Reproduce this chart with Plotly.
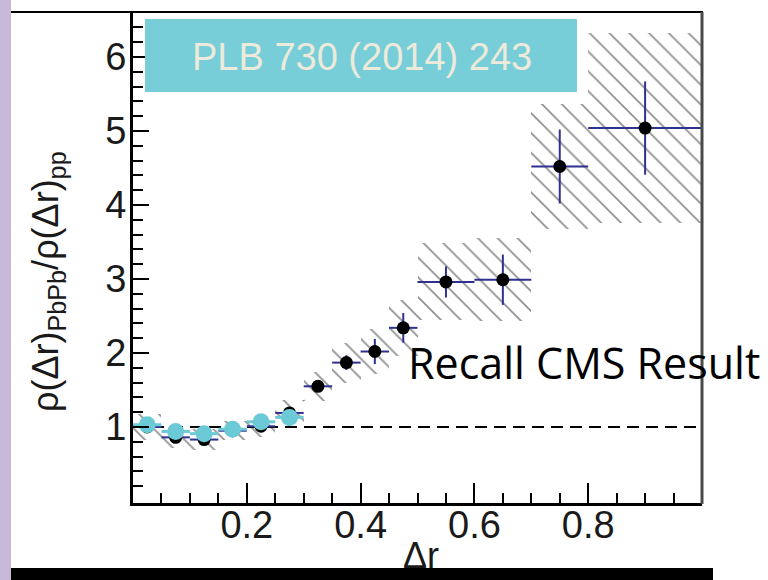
import numpy as np
import plotly.graph_objects as go

# Delta r bins (lower / upper edges)
bin_lo = [0.00, 0.05, 0.10, 0.15, 0.20, 0.25, 0.30, 0.35, 0.40, 0.45, 0.50, 0.60, 0.70, 0.80]
bin_hi = [0.05, 0.10, 0.15, 0.20, 0.25, 0.30, 0.35, 0.40, 0.45, 0.50, 0.60, 0.70, 0.80, 1.00]

# PbPb / pp jet shape ratio (CMS), statistical and systematic uncertainties
cms_ratio = [1.00, 0.86, 0.83, 0.95, 1.01, 1.19, 1.55, 1.87, 2.02, 2.34, 2.96, 2.99, 4.52, 5.04]
cms_stat = [0.02, 0.02, 0.02, 0.02, 0.02, 0.03, 0.03, 0.10, 0.17, 0.20, 0.21, 0.34, 0.50, 0.63]
cms_sys = [0.17, 0.15, 0.14, 0.13, 0.15, 0.18, 0.20, 0.27, 0.31, 0.38, 0.52, 0.56, 0.85, 1.28]

# Overlaid comparison points in the first six bins
cmp_ratio = [1.03, 0.94, 0.91, 0.97, 1.07, 1.13]

x_ticks = [0.2, 0.4, 0.6, 0.8]
x_ticktext = ["0.2", "0.4", "0.6", "0.8"]
y_ticks = [1, 2, 3, 4, 5, 6]
y_ticktext = ["1", "2", "3", "4", "5", "6"]

W, H = 768, 580


def fx(p):
    return p / W


def fy(p):
    return 1 - p / H


lo = np.array(bin_lo)
hi = np.array(bin_hi)
xc = (lo + hi) / 2
half = (hi - lo) / 2
ratio = np.array(cms_ratio)
sys = np.array(cms_sys)

NAVY = "#2E3190"
CYAN = "#6CC9D6"
FONT = "Liberation Sans, Arial, sans-serif"

fig = go.Figure()

# systematic uncertainty boxes (hatched)
fig.add_trace(go.Bar(
    x=xc, y=2 * sys, base=ratio - sys, width=hi - lo,
    marker=dict(color="rgba(0,0,0,0)", line=dict(width=0),
                pattern=dict(shape="\\", size=14, solidity=0.12,
                             fgcolor="#1e1e1e", bgcolor="rgba(0,0,0,0)")),
    showlegend=False, hoverinfo="skip",
))

# unity reference line
fig.add_trace(go.Scatter(
    x=[0, 1], y=[1, 1], mode="lines",
    line=dict(color="black", width=2, dash="12px,7px"),
    showlegend=False, hoverinfo="skip",
))

# CMS points with statistical errors and bin widths
fig.add_trace(go.Scatter(
    x=xc, y=ratio, mode="markers",
    marker=dict(color="black", size=13),
    error_y=dict(type="data", array=cms_stat, color=NAVY, thickness=2, width=0),
    error_x=dict(type="data", array=half, color=NAVY, thickness=2, width=0),
    showlegend=False,
))

# comparison points
n = len(cmp_ratio)
fig.add_trace(go.Scatter(
    x=xc[:n], y=cmp_ratio, mode="markers",
    marker=dict(color=CYAN, size=17),
    error_x=dict(type="data", array=half[:n], color=CYAN, thickness=3, width=0),
    showlegend=False,
))

y_lo = 1 - (503 - 427) / 74
y_hi = 1 + (427 - 12) / 74

fig.update_layout(
    width=W, height=H,
    margin=dict(l=0, r=0, t=0, b=0),
    paper_bgcolor="white", plot_bgcolor="white",
    font=dict(family=FONT, color="#1a1a1a"),
    bargap=0,
    xaxis=dict(
        domain=[fx(133), fx(702)], range=[0, 1],
        tickmode="array", tickvals=x_ticks, ticktext=x_ticktext,
        ticks="inside", ticklen=20, tickwidth=2, tickcolor="black",
        tickfont=dict(size=38, family=FONT, color="#1a1a1a"),
        ticklabelstandoff=-14,
        showline=True, linewidth=3, linecolor="black",
        showgrid=False, zeroline=False,
        minor=dict(ticks="inside", ticklen=10, tickwidth=2, tickcolor="black",
                   tickmode="array",
                   tickvals=[v for v in np.round(np.arange(0.05, 1.0, 0.05), 2)
                             if v not in x_ticks]),
    ),
    yaxis=dict(
        domain=[fy(503), fy(12)], range=[y_lo, y_hi],
        tickmode="array", tickvals=y_ticks, ticktext=y_ticktext,
        ticks="inside", ticklen=16, tickwidth=2, tickcolor="black",
        tickfont=dict(size=38, family=FONT, color="#1a1a1a"),
        ticklabelstandoff=-4,
        showline=True, linewidth=3, linecolor="black",
        showgrid=False, zeroline=False,
        minor=dict(ticks="inside", ticklen=10, tickwidth=2, tickcolor="black",
                   tickmode="array",
                   tickvals=[v for v in np.round(np.arange(0.2, 6.6, 0.2), 1)
                             if v not in y_ticks]),
    ),
)

shapes = [
    # slide border strip on the left
    dict(type="rect", xref="paper", yref="paper", x0=0, x1=fx(11), y0=0, y1=1,
         fillcolor="#C8B9D8", line=dict(width=0), layer="above"),
    # top frame line
    dict(type="line", xref="paper", yref="paper", x0=fx(11), x1=fx(703), y0=fy(12), y1=fy(12),
         line=dict(color="black", width=2), layer="above"),
    # right frame line
    dict(type="line", xref="paper", yref="paper", x0=fx(702), x1=fx(702), y0=fy(12), y1=fy(504),
         line=dict(color="#4a4a4a", width=3), layer="above"),
    # reference banner
    dict(type="rect", xref="paper", yref="paper", x0=fx(145), x1=fx(577), y0=fy(92), y1=fy(19),
         fillcolor="#77CED9", line=dict(width=0), layer="above"),
    # bottom slide bar
    dict(type="rect", xref="paper", yref="paper", x0=fx(11), x1=fx(713), y0=0, y1=fy(568),
         fillcolor="black", line=dict(width=0), layer="above"),
]
fig.update_layout(shapes=shapes)

annotations = [
    dict(text="PLB 730 (2014) 243", xref="paper", yref="paper", x=fx(362), y=fy(57),
         xanchor="center", yanchor="middle", showarrow=False,
         font=dict(family=FONT, size=38, color="#ECEADA")),
    dict(text="ρ(Δr)<sub>PbPb</sub>/ρ(Δr)<sub>pp</sub>", xref="paper", yref="paper",
         x=fx(48), y=fy(282), xanchor="center", yanchor="middle", textangle=-90,
         showarrow=False, font=dict(family=FONT, size=36, color="#1a1a1a")),
    dict(text="Δr", xref="paper", yref="paper", x=fx(421), y=fy(533),
         xanchor="center", yanchor="top", showarrow=False,
         font=dict(family=FONT, size=36, color="#1a1a1a")),
    dict(text="Recall CMS Result", xref="paper", yref="paper", x=fx(406), y=fy(362),
         xanchor="left", yanchor="middle", showarrow=False,
         font=dict(family="Open Sans, sans-serif", size=43, color="black")),
]
fig.update_layout(annotations=annotations)

fig.write_html("out.html")
